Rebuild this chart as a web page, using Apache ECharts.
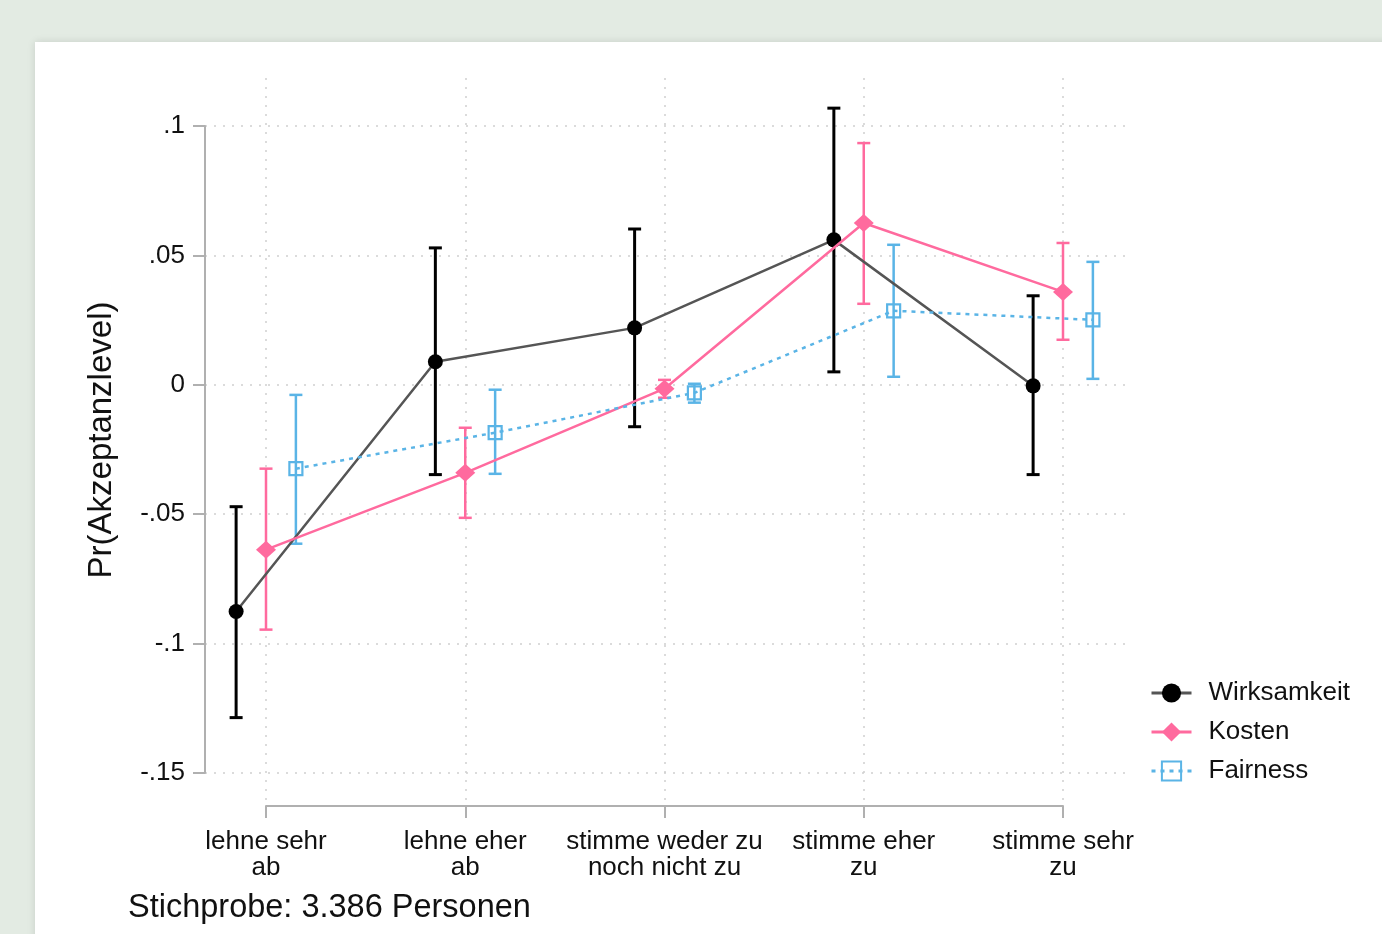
<!DOCTYPE html>
<html>
<head>
<meta charset="utf-8">
<script src="https://cdn.jsdelivr.net/npm/echarts@6/dist/echarts.min.js"></script>
<style>
html,body{margin:0;padding:0;background:#e3ebe3;}
#chart{width:1382px;height:934px;}
</style>
</head>
<body>
<div id="chart"></div>
<script>
// ---------- data ----------
const categories = ['lehne sehr\nab', 'lehne eher\nab', 'stimme weder zu\nnoch nicht zu', 'stimme eher\nzu', 'stimme sehr\nzu'];
const yTicks = [-0.15, -0.1, -0.05, 0, 0.05, 0.1];
const seriesNames = ['Wirksamkeit', 'Kosten', 'Fairness'];

const wirkEst  = [-0.0876, 0.0089, 0.0220, 0.0560, -0.0004];
const wirkLow  = [-0.1286, -0.0347, -0.0162, 0.0050, -0.0347];
const wirkHigh = [-0.0471, 0.0529, 0.0602, 0.1069, 0.0344];

const kostEst  = [-0.0637, -0.0340, -0.0015, 0.0625, 0.0359];
const kostLow  = [-0.0946, -0.0514, -0.0050, 0.0313, 0.0174];
const kostHigh = [-0.0324, -0.0166, 0.0019, 0.0934, 0.0548];

const fairEst  = [-0.0324, -0.0185, -0.0031, 0.0286, 0.0251];
const fairLow  = [-0.0614, -0.0344, -0.0069, 0.0031, 0.0023];
const fairHigh = [-0.0039, -0.0019, 0.0004, 0.0541, 0.0475];

const caption = 'Stichprobe: 3.386 Personen';
const yTitle = 'Pr(Akzeptanzlevel)';

// ---------- layout / style ----------
const W = 1382, H = 934;
const FONT = "'Liberation Sans', Arial, sans-serif";
const plotLeft = 205, plotRight = 1125, plotTop = 126, plotBottom = 773;
const catFirstPx = 266, catLastPx = 1063, xAxisY = 806, vGridTop = 78;
const pxPerUnit = (catLastPx - catFirstPx) / (categories.length - 1);
const xMinA = 1 - (catFirstPx - plotLeft) / pxPerUnit;
const xMaxA = xMinA + (plotRight - plotLeft) / pxPerUnit;
const offsets = [-0.15, 0, 0.15];

const colBlack = '#000000', colBlackLine = '#555555';
const colPink = '#ff6a9e', colBlue = '#5ab4e6';
const gridColor = '#cfcfcf', axisColor = '#b0b0b0';

function pts(est, k) { return est.map((v, i) => [i + 1 + offsets[k], v]); }
function errs(lo, hi, k) { return lo.map((v, i) => [i + 1 + offsets[k], v, hi[i]]); }

function errRender(color, width, cap) {
  return function (params, api) {
    const x = api.value(0);
    const a = api.coord([x, api.value(1)]);
    const b = api.coord([x, api.value(2)]);
    const style = { stroke: color, lineWidth: width, fill: null };
    return {
      type: 'group',
      children: [
        { type: 'line', shape: { x1: a[0], y1: a[1], x2: b[0], y2: b[1] }, style: style },
        { type: 'line', shape: { x1: a[0] - cap, y1: a[1], x2: a[0] + cap, y2: a[1] }, style: style },
        { type: 'line', shape: { x1: b[0] - cap, y1: b[1], x2: b[0] + cap, y2: b[1] }, style: style }
      ]
    };
  };
}

const chart = echarts.init(document.getElementById('chart'), null, { renderer: 'canvas', width: W, height: H });

const option = {
  animation: false,
  backgroundColor: '#e3ebe3',
  textStyle: { fontFamily: FONT },
  graphic: [
    { type: 'rect', z: -10, shape: { x: 35, y: 42, width: 1400, height: 950 },
      style: { fill: '#ffffff', shadowBlur: 8, shadowColor: 'rgba(0,0,0,0.12)' } },
    { type: 'text', x: 102, y: 440, rotation: Math.PI / 2,
      style: { text: yTitle, font: '33px ' + FONT, fill: '#111', textAlign: 'center', textVerticalAlign: 'middle' } },
    { type: 'text', x: 128, y: 908,
      style: { text: caption, font: '32.5px ' + FONT, fill: '#111', textAlign: 'left', textVerticalAlign: 'middle' } }
  ],
  legend: {
    orient: 'vertical',
    left: 1145, top: 675,
    itemWidth: 40, itemHeight: 24, itemGap: 13,
    data: seriesNames,
    lineStyle: { width: 3 },
    textStyle: { fontSize: 26, color: '#111', fontFamily: FONT, lineHeight: 26, padding: [0, 0, 0, 12] }
  },
  grid: [
    { left: plotLeft, right: W - plotRight, top: plotTop, bottom: H - plotBottom, containLabel: false },
    { left: catFirstPx, right: W - catLastPx, top: vGridTop, bottom: H - xAxisY, containLabel: false }
  ],
  xAxis: [
    { type: 'value', gridIndex: 0, min: xMinA, max: xMaxA, show: false, splitLine: { show: false } },
    { type: 'value', gridIndex: 1, min: 1, max: categories.length, interval: 1, position: 'bottom',
      axisLine: { show: true, lineStyle: { color: axisColor, width: 2 } },
      axisTick: { show: true, inside: false, length: 12, lineStyle: { color: axisColor, width: 2 } },
      axisLabel: { show: true, margin: 23, fontSize: 26, lineHeight: 26, color: '#111', fontFamily: FONT,
        formatter: v => categories[Math.round(v) - 1] || '' },
      splitLine: { show: true, lineStyle: { color: gridColor, width: 1.5, type: [2, 7] } }
    }
  ],
  yAxis: [
    { type: 'value', gridIndex: 0, min: yTicks[0], max: yTicks[yTicks.length - 1], interval: 0.05,
      axisLine: { show: true, lineStyle: { color: axisColor, width: 2 } },
      axisTick: { show: true, inside: false, length: 12, lineStyle: { color: axisColor, width: 2 } },
      axisLabel: { show: true, margin: 20, fontSize: 26, color: '#111', fontFamily: FONT,
        formatter: v => {
          const r = Math.round(v * 100) / 100;
          if (r === 0) return '0';
          return (r < 0 ? '-' : '') + String(Math.abs(r)).replace(/^0/, '');
        } },
      splitLine: { show: true, lineStyle: { color: gridColor, width: 1.5, type: [2, 7] } }
    },
    { type: 'value', gridIndex: 1, min: 0, max: 1, show: false, splitLine: { show: false } }
  ],
  series: [
    { type: 'custom', name: 'errW', xAxisIndex: 0, yAxisIndex: 0, z: 2, clip: false,
      renderItem: errRender(colBlack, 3, 6.5), data: errs(wirkLow, wirkHigh, 0), encode: { x: 0, y: [1, 2] }, silent: true },
    { type: 'custom', name: 'errK', xAxisIndex: 0, yAxisIndex: 0, z: 2, clip: false,
      renderItem: errRender(colPink, 2.5, 6.5), data: errs(kostLow, kostHigh, 1), encode: { x: 0, y: [1, 2] }, silent: true },
    { type: 'custom', name: 'errF', xAxisIndex: 0, yAxisIndex: 0, z: 2, clip: false,
      renderItem: errRender(colBlue, 2.5, 6.5), data: errs(fairLow, fairHigh, 2), encode: { x: 0, y: [1, 2] }, silent: true },
    { type: 'line', name: seriesNames[0], xAxisIndex: 0, yAxisIndex: 0, z: 3, data: pts(wirkEst, 0),
      symbol: 'circle', symbolSize: 15, showSymbol: true,
      itemStyle: { color: colBlack }, lineStyle: { color: colBlackLine, width: 2.5 } },
    { type: 'line', name: seriesNames[1], xAxisIndex: 0, yAxisIndex: 0, z: 4, data: pts(kostEst, 1),
      symbol: 'diamond', symbolSize: [20, 18], showSymbol: true,
      itemStyle: { color: colPink }, lineStyle: { color: colPink, width: 2.5 } },
    { type: 'line', name: seriesNames[2], xAxisIndex: 0, yAxisIndex: 0, z: 5, data: pts(fairEst, 2),
      symbol: 'rect', symbolSize: 13, showSymbol: true,
      itemStyle: { color: 'rgba(255,255,255,0)', borderColor: colBlue, borderWidth: 2.2 },
      lineStyle: { color: colBlue, width: 2.5, type: [4, 5] } }
  ]
};
chart.setOption(option);
</script>
</body>
</html>
